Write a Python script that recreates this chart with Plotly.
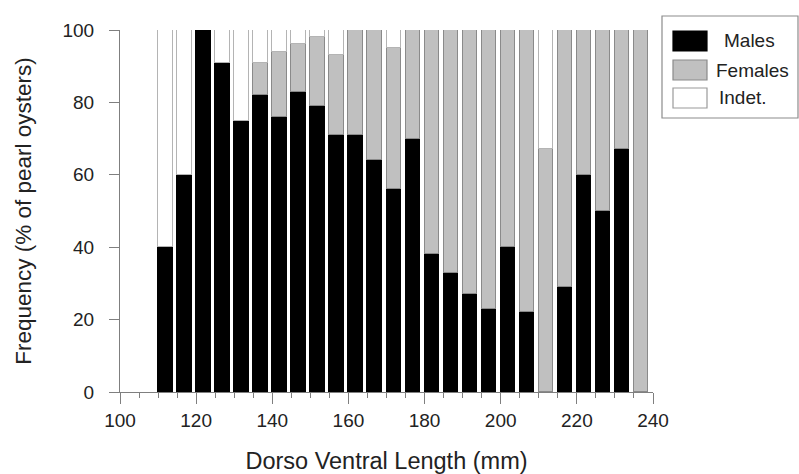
import plotly.graph_objects as go

# ---- data ----
bin_starts = [110, 115, 120, 125, 130, 135, 140, 145, 150, 155, 160, 165, 170,
              175, 180, 185, 190, 195, 200, 205, 210, 215, 220, 225, 230, 235]
males = [40, 60, 100, 91, 75, 82, 76, 83, 79, 71, 71, 64, 56,
         70, 38, 33, 27, 23, 40, 22, 0, 29, 60, 50, 67, 0]
females = [0, 0, 0, 0, 0, 9, 18, 13, 19, 22, 29, 36, 39,
           30, 62, 67, 73, 77, 60, 78, 67, 71, 40, 50, 33, 100]
indet = [60, 40, 0, 9, 25, 9, 6, 4, 2, 7, 0, 0, 5,
         0, 0, 0, 0, 0, 0, 0, 33, 0, 0, 0, 0, 0]
series_names = ["Males", "Females", "Indet."]
x_ticks = [100, 120, 140, 160, 180, 200, 220, 240]
y_ticks = [0, 20, 40, 60, 80, 100]

FONT = "Liberation Sans, Arial, sans-serif"
TXT = "#222222"
AX = "#7f7f7f"

fills = ["#000000", "#c0c0c0", "#ffffff"]
edges = ["#000000", "#8a8a8a", "#b4b4b4"]


def nz(v):
    return [None if a == 0 else a for a in v]


fig = go.Figure()
for name, vals, fc, ec in zip(series_names, [males, females, indet], fills, edges):
    fig.add_trace(go.Bar(
        x=bin_starts, y=nz(vals), name=name, width=3.8, offset=0,
        marker=dict(color=fc, line=dict(color=ec, width=1.5)),
        showlegend=False,
    ))

W, H = 799, 474
L, R, T, B = 120, 146, 30, 82
pw, ph = W - L - R, H - T - B


def px(x):
    return (x - L) / pw


def py(y):
    return (H - B - y) / ph


shapes = []
annotations = []
# legend box
shapes.append(dict(type="rect", xref="paper", yref="paper",
                   x0=px(662), x1=px(798), y0=py(118), y1=py(16),
                   line=dict(color="#8c8c8c", width=1.2), fillcolor="rgba(0,0,0,0)"))
leg_rows = [(31, 51), (60, 80), (88, 108)]
text_x = [722, 714, 717]
for (y0, y1), name, fc, ec, tx in zip(leg_rows, series_names, fills, edges, text_x):
    shapes.append(dict(type="rect", xref="paper", yref="paper",
                       x0=px(673), x1=px(707), y0=py(y1), y1=py(y0),
                       line=dict(color=ec if fc != "#ffffff" else "#9a9a9a", width=1.2),
                       fillcolor=fc))
    annotations.append(dict(xref="paper", yref="paper", x=px(tx), y=py((y0 + y1) / 2),
                            text=name, showarrow=False, xanchor="left", yanchor="middle",
                            font=dict(family=FONT, size=19, color=TXT)))

fig.update_layout(
    width=W, height=H,
    margin=dict(l=L, r=R, t=T, b=B, autoexpand=False),
    paper_bgcolor="white", plot_bgcolor="white",
    barmode="stack", bargap=0,
    font=dict(family=FONT, size=18, color=TXT),
    shapes=shapes, annotations=annotations,
    xaxis=dict(
        range=[100, 240], tickvals=x_ticks, ticks="outside", ticklen=11,
        tickcolor=AX, tickwidth=1, showline=True, linecolor=AX, linewidth=1,
        showgrid=False, zeroline=False,
        tickfont=dict(family=FONT, size=19, color=TXT),
        minor=dict(dtick=5, tick0=100, ticks="outside", ticklen=5, tickcolor=AX),
        title=dict(text="Dorso Ventral Length (mm)", standoff=23,
                   font=dict(family=FONT, size=23.5, color=TXT)),
    ),
    yaxis=dict(
        range=[0, 100], tickvals=y_ticks, ticks="outside", ticklen=10,
        tickcolor=AX, tickwidth=1, showline=True, linecolor=AX, linewidth=1,
        showgrid=False, zeroline=False, ticklabelstandoff=11,
        tickfont=dict(family=FONT, size=19, color=TXT),
        title=dict(text="Frequency (% of pearl oysters)", standoff=24,
                   font=dict(family=FONT, size=22.5, color=TXT)),
    ),
)

fig.write_html("out.html", config={"displayModeBar": False},
               post_script="document.body.style.margin='0';")
